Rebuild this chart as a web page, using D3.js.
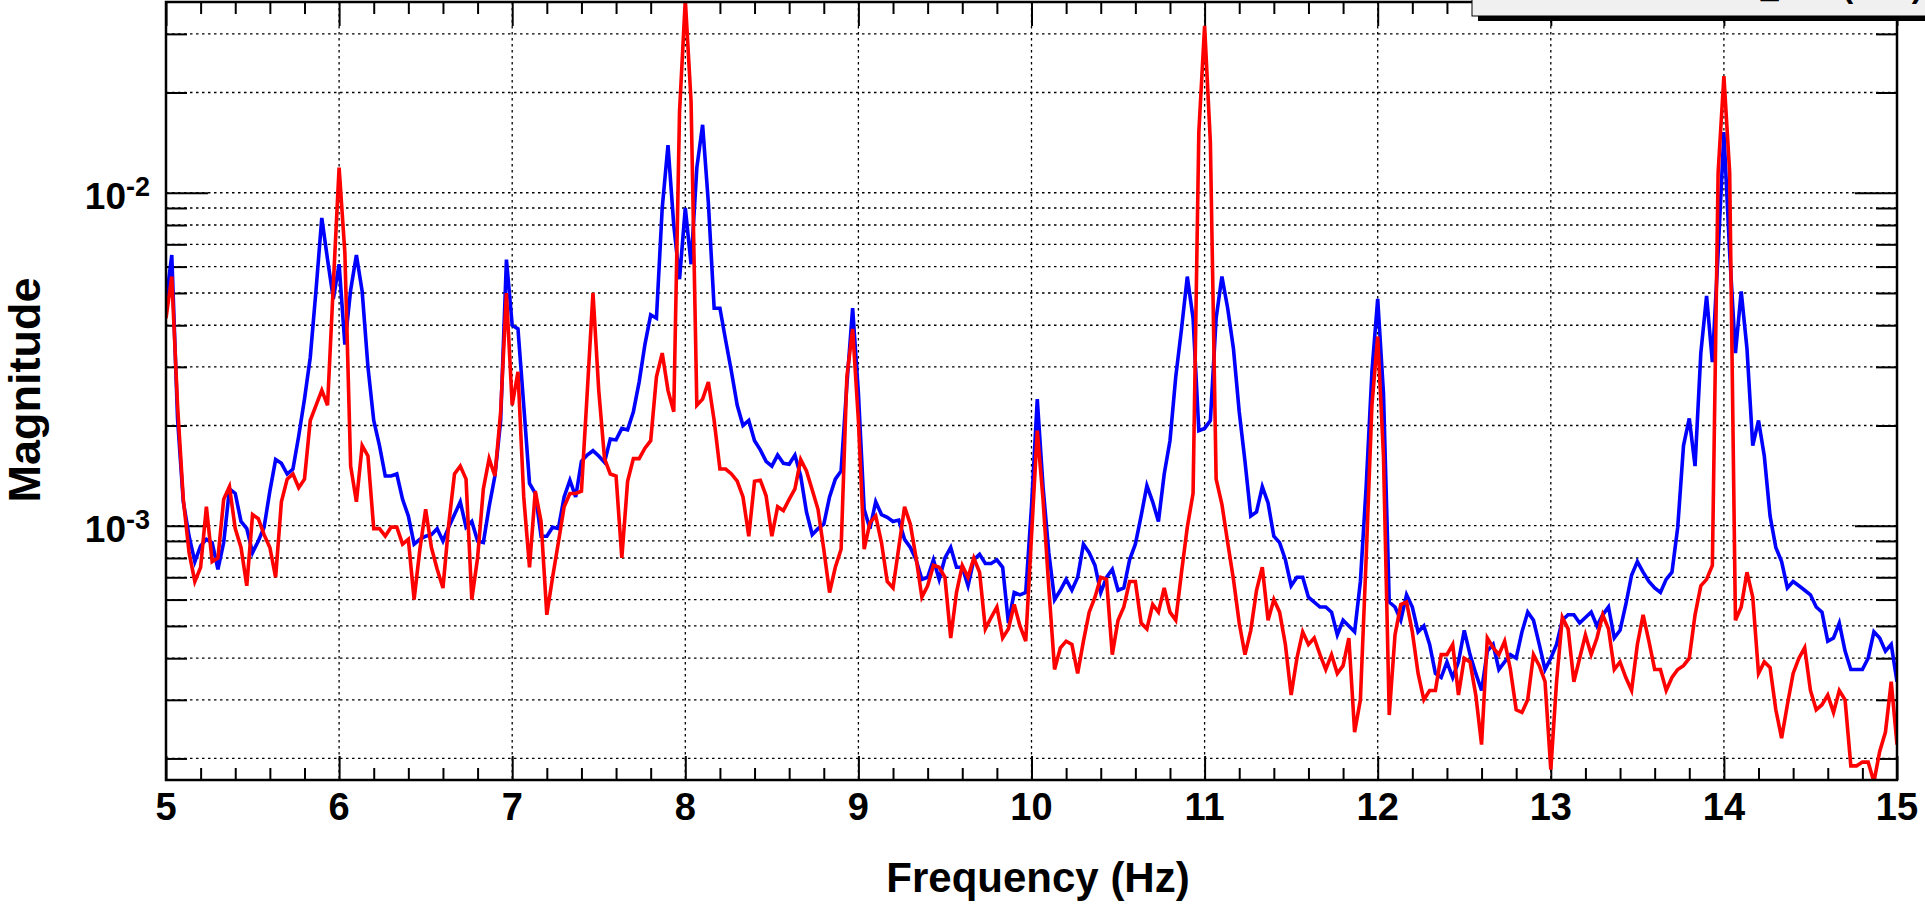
<!DOCTYPE html>
<html><head><meta charset="utf-8">
<script src="https://cdn.jsdelivr.net/npm/d3@7"></script>
<style>
body{margin:0;background:#fff;}
svg{display:block;}
text{font-family:"Liberation Sans",Arial,Helvetica,sans-serif;font-weight:bold;fill:#000;}
</style>
</head><body>
<svg id="c" width="1925" height="908"></svg>
<script>
// ---------------- data ----------------
const freqStart = 5, freqEnd = 15, nPoints = 301;
const blueMag = [
4.7e-3,6.5e-3,2.1e-3,1.18e-3,9.3e-4,7.8e-4,8.7e-4,9.1e-4,8.9e-4,7.4e-4,
8.9e-4,1.29e-3,1.25e-3,1.03e-3,9.8e-4,8.3e-4,9.0e-4,9.9e-4,1.27e-3,1.58e-3,
1.54e-3,1.43e-3,1.48e-3,1.86e-3,2.4e-3,3.2e-3,5.1e-3,8.4e-3,6.3e-3,4.8e-3,
6.1e-3,3.5e-3,5.1e-3,6.5e-3,5.05e-3,3.0e-3,2.07e-3,1.74e-3,1.41e-3,1.41e-3,
1.43e-3,1.2e-3,1.07e-3,8.8e-4,9.1e-4,9.3e-4,9.4e-4,9.8e-4,9.0e-4,9.9e-4,
1.08e-3,1.18e-3,9.9e-4,1.03e-3,9.0e-4,8.9e-4,1.14e-3,1.41e-3,2.07e-3,6.3e-3,
4.0e-3,3.9e-3,2.3e-3,1.34e-3,1.25e-3,9.3e-4,9.3e-4,9.9e-4,9.8e-4,1.22e-3,
1.37e-3,1.22e-3,1.56e-3,1.63e-3,1.68e-3,1.62e-3,1.55e-3,1.82e-3,1.81e-3,1.96e-3,
1.94e-3,2.2e-3,2.7e-3,3.5e-3,4.3e-3,4.2e-3,9.0e-3,1.39e-2,8.0e-3,5.5e-3,
9.0e-3,6.1e-3,1.19e-2,1.6e-2,9.3e-3,4.5e-3,4.5e-3,3.6e-3,2.9e-3,2.3e-3,
2.0e-3,2.07e-3,1.8e-3,1.69e-3,1.56e-3,1.51e-3,1.63e-3,1.54e-3,1.53e-3,1.63e-3,
1.41e-3,1.1e-3,9.4e-4,9.8e-4,1.01e-3,1.22e-3,1.38e-3,1.46e-3,2.65e-3,4.5e-3,
2.5e-3,1.12e-3,9.8e-4,1.18e-3,1.08e-3,1.06e-3,1.03e-3,1.04e-3,9.1e-4,8.6e-4,
7.9e-4,6.9e-4,7.0e-4,7.9e-4,6.9e-4,8.0e-4,8.6e-4,7.5e-4,7.5e-4,6.6e-4,
7.9e-4,8.2e-4,7.7e-4,7.7e-4,7.9e-4,7.5e-4,5.1e-4,6.3e-4,6.2e-4,6.3e-4,
1.14e-3,2.4e-3,1.31e-3,8.3e-4,6.0e-4,6.4e-4,6.9e-4,6.4e-4,7.0e-4,8.8e-4,
8.3e-4,7.6e-4,6.3e-4,7.0e-4,7.4e-4,6.4e-4,6.5e-4,7.9e-4,8.8e-4,1.07e-3,
1.32e-3,1.18e-3,1.03e-3,1.43e-3,1.8e-3,2.8e-3,3.9e-3,5.6e-3,4.2e-3,1.93e-3,
1.96e-3,2.07e-3,4.2e-3,5.6e-3,4.5e-3,3.4e-3,2.2e-3,1.56e-3,1.07e-3,1.1e-3,
1.31e-3,1.17e-3,9.3e-4,8.9e-4,7.9e-4,6.6e-4,7.0e-4,7.0e-4,6.1e-4,5.9e-4,
5.7e-4,5.7e-4,5.5e-4,4.7e-4,5.2e-4,5.0e-4,4.8e-4,6.8e-4,1.31e-3,2.9e-3,
4.8e-3,2.5e-3,5.9e-4,5.7e-4,5.2e-4,6.2e-4,5.7e-4,4.8e-4,5.0e-4,4.4e-4,
3.6e-4,3.5e-4,3.9e-4,3.5e-4,3.9e-4,4.85e-4,4.1e-4,3.6e-4,3.2e-4,4.2e-4,
4.4e-4,3.7e-4,3.9e-4,4.1e-4,4.0e-4,4.8e-4,5.5e-4,5.2e-4,4.4e-4,3.7e-4,
4.0e-4,4.4e-4,5.2e-4,5.4e-4,5.4e-4,5.1e-4,5.3e-4,5.5e-4,5.0e-4,5.4e-4,
5.7e-4,4.6e-4,4.85e-4,5.8e-4,7.1e-4,7.8e-4,7.25e-4,6.8e-4,6.5e-4,6.3e-4,
6.9e-4,7.25e-4,9.9e-4,1.74e-3,2.1e-3,1.51e-3,3.3e-3,4.9e-3,3.1e-3,6.6e-3,
1.52e-2,6.6e-3,3.3e-3,5.05e-3,3.4e-3,1.74e-3,2.07e-3,1.62e-3,1.07e-3,8.6e-4,
7.8e-4,6.5e-4,6.8e-4,6.6e-4,6.4e-4,6.2e-4,5.7e-4,5.5e-4,4.5e-4,4.6e-4,
5.1e-4,4.2e-4,3.7e-4,3.7e-4,3.7e-4,4.0e-4,4.8e-4,4.6e-4,4.2e-4,4.4e-4,
3.4e-4
];
const redMag = [
4.2e-3,5.6e-3,2.3e-3,1.2e-3,8.3e-4,6.8e-4,7.5e-4,1.14e-3,7.8e-4,8.0e-4,
1.2e-3,1.31e-3,9.8e-4,8.6e-4,6.6e-4,1.08e-3,1.05e-3,9.4e-4,8.6e-4,7.0e-4,
1.18e-3,1.38e-3,1.43e-3,1.3e-3,1.38e-3,2.07e-3,2.3e-3,2.55e-3,2.3e-3,5.3e-3,
1.19e-2,6.6e-3,1.51e-3,1.18e-3,1.74e-3,1.62e-3,9.8e-4,9.8e-4,9.3e-4,9.9e-4,
9.9e-4,8.8e-4,9.1e-4,6.0e-4,8.5e-4,1.12e-3,8.6e-4,7.4e-4,6.5e-4,1.01e-3,
1.43e-3,1.51e-3,1.38e-3,6.0e-4,8.0e-4,1.29e-3,1.59e-3,1.41e-3,2.2e-3,5.0e-3,
2.3e-3,2.9e-3,1.22e-3,7.5e-4,1.27e-3,1.03e-3,5.4e-4,7.0e-4,8.9e-4,1.14e-3,
1.25e-3,1.25e-3,1.27e-3,2.5e-3,5.0e-3,2.55e-3,1.59e-3,1.43e-3,1.41e-3,8.0e-4,
1.36e-3,1.59e-3,1.59e-3,1.71e-3,1.8e-3,2.8e-3,3.3e-3,2.55e-3,2.2e-3,1.75e-2,
3.8e-2,1.88e-2,2.3e-3,2.4e-3,2.7e-3,2.07e-3,1.48e-3,1.48e-3,1.43e-3,1.36e-3,
1.22e-3,9.3e-4,1.36e-3,1.37e-3,1.23e-3,9.3e-4,1.14e-3,1.11e-3,1.2e-3,1.29e-3,
1.58e-3,1.46e-3,1.28e-3,1.12e-3,8.5e-4,6.3e-4,7.5e-4,8.5e-4,2.8e-3,3.9e-3,
2.07e-3,8.5e-4,1.02e-3,1.07e-3,8.9e-4,6.8e-4,6.5e-4,8.6e-4,1.14e-3,1.01e-3,
8.0e-4,6.1e-4,6.6e-4,7.6e-4,7.5e-4,7.0e-4,4.6e-4,6.3e-4,7.6e-4,7.0e-4,
8.0e-4,7.25e-4,4.9e-4,5.3e-4,5.7e-4,4.6e-4,4.9e-4,5.8e-4,5.0e-4,4.5e-4,
9.3e-4,1.93e-3,1.2e-3,6.5e-4,3.7e-4,4.3e-4,4.5e-4,4.4e-4,3.6e-4,4.5e-4,
5.5e-4,6.1e-4,7.0e-4,6.9e-4,4.1e-4,5.2e-4,5.7e-4,6.8e-4,6.8e-4,5.1e-4,
4.9e-4,5.8e-4,5.5e-4,6.5e-4,5.5e-4,5.2e-4,7.25e-4,9.9e-4,1.25e-3,1.52e-2,
3.17e-2,1.42e-2,1.38e-3,1.16e-3,8.9e-4,6.9e-4,5.1e-4,4.1e-4,4.85e-4,6.4e-4,
7.5e-4,5.2e-4,6.0e-4,5.5e-4,4.4e-4,3.1e-4,4.0e-4,4.8e-4,4.4e-4,4.6e-4,
4.1e-4,3.7e-4,4.1e-4,3.6e-4,3.8e-4,4.6e-4,2.4e-4,3.0e-4,8.0e-4,2.3e-3,
3.7e-3,1.62e-3,2.7e-4,4.7e-4,5.8e-4,5.9e-4,4.8e-4,3.6e-4,3.0e-4,3.2e-4,
3.2e-4,4.1e-4,4.1e-4,4.4e-4,3.1e-4,4.0e-4,3.9e-4,3.1e-4,2.2e-4,4.6e-4,
4.3e-4,4.1e-4,4.5e-4,3.7e-4,2.8e-4,2.75e-4,3.0e-4,4.1e-4,3.8e-4,3.4e-4,
1.85e-4,3.4e-4,5.3e-4,4.9e-4,3.4e-4,4.0e-4,4.7e-4,4.1e-4,4.6e-4,5.4e-4,
4.9e-4,3.7e-4,3.9e-4,3.5e-4,3.2e-4,4.4e-4,5.4e-4,4.5e-4,3.7e-4,3.7e-4,
3.2e-4,3.5e-4,3.7e-4,3.8e-4,4.0e-4,5.4e-4,6.6e-4,6.9e-4,7.6e-4,1.15e-2,
2.24e-2,1.15e-2,5.2e-4,5.7e-4,7.25e-4,6.1e-4,3.6e-4,3.9e-4,3.75e-4,2.8e-4,
2.3e-4,2.9e-4,3.6e-4,4.0e-4,4.3e-4,3.2e-4,2.8e-4,2.9e-4,3.1e-4,2.75e-4,
3.2e-4,3.0e-4,1.9e-4,1.9e-4,1.95e-4,1.95e-4,1.7e-4,2.1e-4,2.4e-4,3.4e-4,
2.2e-4
];
const xTickLabels = [5,6,7,8,9,10,11,12,13,14,15];
const yDecades = [1e-3, 1e-2];
const yDecadeExp = ["-3", "-2"];
const yMinorTicks = [2e-4,3e-4,4e-4,5e-4,6e-4,7e-4,8e-4,9e-4,
                     2e-3,3e-3,4e-3,5e-3,6e-3,7e-3,8e-3,9e-3,2e-2,3e-2];
const xTitle = "Frequency (Hz)";
const yTitle = "Magnitude";
const paveTitle = "FFT_abs (arb.)";

// ---------------- layout ----------------
const L = 166, R = 1897, T = 2, B = 780;
const freqs = d3.range(nPoints).map(i => freqStart + i * (freqEnd - freqStart) / (nPoints - 1));
const x = d3.scaleLinear().domain([freqStart, freqEnd]).range([L, R]);
const y = d3.scaleLog().domain([1.723e-4, 3.74e-2]).range([B, T]);

const svg = d3.select("#c");
svg.append("rect").attr("width",1925).attr("height",908).attr("fill","#fff");
svg.append("defs").append("clipPath").attr("id","plotClip")
  .append("rect").attr("x",L).attr("y",T).attr("width",R-L).attr("height",B-T);

const xMinor = d3.range(freqStart, freqEnd + 1e-9, 0.2).filter(v => Math.abs(v - Math.round(v)) > 1e-6);
const xGrid = xTickLabels.filter(v => v > freqStart && v < freqEnd);
const yGrid = yDecades.concat(yMinorTicks);

// grid
const grid = svg.append("g");
grid.selectAll("line.gx").data(xGrid).enter().append("line")
  .attr("x1",d=>x(d)).attr("x2",d=>x(d)).attr("y1",T).attr("y2",B)
  .attr("stroke","#000").attr("stroke-width",1.3).attr("stroke-dasharray","2.5,3.5");
grid.selectAll("line.gy").data(yGrid).enter().append("line")
  .attr("x1",L).attr("x2",R).attr("y1",d=>y(d)).attr("y2",d=>y(d))
  .attr("stroke","#000").attr("stroke-width",1.3).attr("stroke-dasharray","2.5,3.5");

// axes ticks via d3 axes
function styleAxis(sel){
  sel.select(".domain").remove();
  sel.selectAll(".tick line").attr("stroke","#000").attr("stroke-width",2);
  sel.selectAll(".tick text").remove();
}
svg.append("g").attr("transform",`translate(0,${B})`)
  .call(d3.axisBottom(x).tickValues(xTickLabels).tickSize(-24)).call(styleAxis);
svg.append("g").attr("transform",`translate(0,${B})`)
  .call(d3.axisBottom(x).tickValues(xMinor).tickSize(-12)).call(styleAxis);
svg.append("g").attr("transform",`translate(0,${T})`)
  .call(d3.axisTop(x).tickValues(xTickLabels).tickSize(-24)).call(styleAxis);
svg.append("g").attr("transform",`translate(0,${T})`)
  .call(d3.axisTop(x).tickValues(xMinor).tickSize(-12)).call(styleAxis);
svg.append("g").attr("transform",`translate(${L},0)`)
  .call(d3.axisLeft(y).tickValues(yDecades).tickSize(-42)).call(styleAxis);
svg.append("g").attr("transform",`translate(${L},0)`)
  .call(d3.axisLeft(y).tickValues(yMinorTicks).tickSize(-21)).call(styleAxis);
svg.append("g").attr("transform",`translate(${R},0)`)
  .call(d3.axisRight(y).tickValues(yDecades).tickSize(-42)).call(styleAxis);
svg.append("g").attr("transform",`translate(${R},0)`)
  .call(d3.axisRight(y).tickValues(yMinorTicks).tickSize(-21)).call(styleAxis);

// data lines
const line = d3.line().x((d,i)=>x(freqs[i])).y(d=>y(d));
const plot = svg.append("g").attr("clip-path","url(#plotClip)");
plot.append("path").datum(blueMag).attr("d",line)
  .attr("fill","none").attr("stroke","#0000ff").attr("stroke-width",3.6).attr("stroke-linejoin","miter");
plot.append("path").datum(redMag).attr("d",line)
  .attr("fill","none").attr("stroke","#ff0000").attr("stroke-width",3.6).attr("stroke-linejoin","miter");

// frame
svg.append("rect").attr("x",L).attr("y",T).attr("width",R-L).attr("height",B-T)
  .attr("fill","none").attr("stroke","#000").attr("stroke-width",2.5);

// x tick labels
svg.append("g").selectAll("text").data(xTickLabels).enter().append("text")
  .attr("x",d=>x(d)).attr("y",820).attr("text-anchor","middle")
  .attr("font-size",38).text(d=>d);

// y tick labels 10^n
const yl = svg.append("g").selectAll("text").data(yDecades).enter().append("text")
  .attr("x",150).attr("y",d=>y(d)+16).attr("text-anchor","end").attr("font-size",37);
yl.append("tspan").text("10");
yl.append("tspan").attr("dy",-13).attr("font-size",27).text((d,i)=>yDecadeExp[i]);

// axis titles
svg.append("text").attr("x",1038).attr("y",892).attr("text-anchor","middle")
  .attr("font-size",42).text(xTitle);
svg.append("text").attr("transform","translate(40,390) rotate(-90)")
  .attr("text-anchor","middle").attr("font-size",45).text(yTitle);

// title pave (mostly off-canvas)
svg.append("rect").attr("x",1478).attr("y",-20).attr("width",600).attr("height",41).attr("fill","#000");
svg.append("rect").attr("x",1472).attr("y",-20).attr("width",600).attr("height",36)
  .attr("fill","#f0f0f0").attr("stroke","#000").attr("stroke-width",1);
svg.append("text").attr("x",1702).attr("y",-3).attr("font-size",32).text(paveTitle);
</script>
</body></html>
